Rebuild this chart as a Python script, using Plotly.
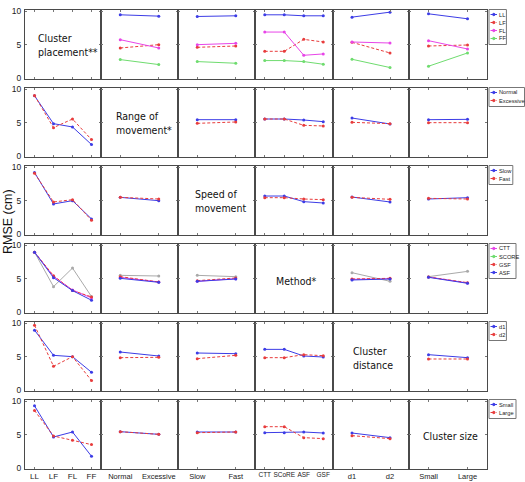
import plotly.graph_objects as go

W, H = 525, 482

# ---------------- categories (x axis of each column) ----------------
placement = ["LL", "LF", "FL", "FF"]
move_range = ["Normal", "Excessive"]
speed = ["Slow", "Fast"]
method = ["CTT", "SCoRE", "ASF", "GSF"]
distance = ["d1", "d2"]
csize = ["Small", "Large"]
factor_cats = [placement, move_range, speed, method, distance, csize]

factor_titles = ["Cluster<br>placement**", "Range of<br>movement*", "Speed of<br>movement",
                 "Method*", "Cluster<br>distance", "Cluster size"]

# ---------------- series shown in each row (legend names) ----------------
row1_series = ["LL", "LF", "FL", "FF"]
row2_series = ["Normal", "Excessive"]
row3_series = ["Slow", "Fast"]
row4_series = ["CTT", "SCORE", "GSF", "ASF"]
row5_series = ["d1", "d2"]
row6_series = ["Small", "Large"]

# ---------------- RMSE values (cm) ----------------
# Row 1: cluster placement groups vs other factors
r1_range = {"LL": [9.5, 9.3], "LF": [4.5, 5.0], "FL": [5.75, 4.5], "FF": [2.75, 2.0]}
r1_speed = {"LL": [9.25, 9.35], "LF": [4.6, 4.8], "FL": [5.0, 5.2], "FF": [2.45, 2.2]}
r1_method = {"LL": [9.5, 9.5, 9.35, 9.35], "LF": [4.0, 4.0, 5.8, 5.4],
             "FL": [6.9, 6.9, 3.4, 3.6], "FF": [2.6, 2.6, 2.45, 2.05]}
r1_distance = {"LL": [9.15, 9.9], "LF": [5.35, 3.75], "FL": [5.4, 5.25], "FF": [2.8, 1.55]}
r1_size = {"LL": [9.65, 8.9], "LF": [4.8, 4.95], "FL": [5.6, 4.35], "FF": [1.75, 3.75]}

# Row 2: range of movement
r2_placement = {"Normal": [9.05, 4.85, 4.35, 1.7], "Excessive": [9.1, 4.25, 5.55, 2.45]}
r2_speed = {"Normal": [5.45, 5.45], "Excessive": [4.9, 5.1]}
r2_method = {"Normal": [5.55, 5.55, 5.4, 5.15], "Excessive": [5.55, 5.55, 4.6, 4.5]}
r2_distance = {"Normal": [5.7, 4.8], "Excessive": [5.05, 4.85]}
r2_size = {"Normal": [5.45, 5.5], "Excessive": [5.0, 5.0]}

# Row 3: speed of movement
r3_placement = {"Slow": [9.25, 4.5, 5.0, 2.25], "Fast": [9.15, 4.8, 5.15, 2.05]}
r3_range = {"Slow": [5.5, 5.0], "Fast": [5.5, 5.25]}
r3_method = {"Slow": [5.7, 5.7, 4.85, 4.65], "Fast": [5.45, 5.45, 5.25, 5.15]}
r3_distance = {"Slow": [5.55, 4.8], "Fast": [5.5, 5.2]}
r3_size = {"Slow": [5.25, 5.45], "Fast": [5.35, 5.25]}

# Row 4: method
r4_placement = {"CTT": [9.0, 5.35, 3.3, 2.1], "SCORE": [9.0, 3.8, 6.6, 2.3],
                "GSF": [9.0, 5.45, 3.2, 2.25], "ASF": [9.0, 5.15, 3.2, 1.75]}
r4_range = {"CTT": [5.2, 4.5], "SCORE": [5.5, 5.4], "GSF": [5.3, 4.5], "ASF": [5.05, 4.45]}
r4_speed = {"CTT": [4.6, 5.0], "SCORE": [5.5, 5.3], "GSF": [4.7, 5.1], "ASF": [4.6, 4.95]}
r4_distance = {"CTT": [4.9, 5.0], "SCORE": [5.9, 4.6], "GSF": [4.95, 5.05], "ASF": [4.8, 4.95]}
r4_size = {"CTT": [5.25, 4.35], "SCORE": [5.3, 6.1], "GSF": [5.25, 4.4], "ASF": [5.2, 4.3]}

# Row 5: cluster distance
r5_placement = {"d1": [9.0, 5.2, 5.0, 2.65], "d2": [9.75, 3.55, 5.0, 1.4]}
r5_range = {"d1": [5.7, 5.1], "d2": [4.85, 4.9]}
r5_speed = {"d1": [5.55, 5.45], "d2": [4.7, 5.2]}
r5_method = {"d1": [6.1, 6.1, 5.1, 4.95], "d2": [4.85, 4.85, 5.3, 5.15]}
r5_size = {"d1": [5.3, 4.85], "d2": [4.65, 4.65]}

# Row 6: cluster size
r6_placement = {"Small": [9.35, 4.65, 5.4, 1.75], "Large": [8.65, 4.8, 4.15, 3.5]}
r6_range = {"Small": [5.45, 5.05], "Large": [5.45, 5.05]}
r6_speed = {"Small": [5.4, 5.4], "Large": [5.3, 5.4]}
r6_method = {"Small": [5.3, 5.3, 5.4, 5.25], "Large": [6.2, 6.2, 4.55, 4.4]}
r6_distance = {"Small": [5.25, 4.55], "Large": [4.85, 4.4]}

y_ticks = [0, 5, 10]

# ---------------- assembly ----------------
grid = [
    [None, r1_range, r1_speed, r1_method, r1_distance, r1_size],
    [r2_placement, None, r2_speed, r2_method, r2_distance, r2_size],
    [r3_placement, r3_range, None, r3_method, r3_distance, r3_size],
    [r4_placement, r4_range, r4_speed, None, r4_distance, r4_size],
    [r5_placement, r5_range, r5_speed, r5_method, None, r5_size],
    [r6_placement, r6_range, r6_speed, r6_method, r6_distance, None],
]
row_series = [row1_series, row2_series, row3_series, row4_series, row5_series, row6_series]

BLUE, RED, MAG, GREEN, GRAY = "#3c3ce6", "#e83c3c", "#e845e8", "#6fdc6f", "#a9a9a9"
row_colors = [[BLUE, RED, MAG, GREEN], [BLUE, RED], [BLUE, RED], [MAG, GRAY, RED, BLUE], [BLUE, RED], [BLUE, RED]]
row_legend_colors = [[BLUE, RED, MAG, GREEN], [BLUE, RED], [BLUE, RED], [MAG, GREEN, RED, BLUE], [BLUE, RED], [BLUE, RED]]
row_dash = [["solid", "3px,2px", "solid", "solid"], ["solid", "3px,2px"], ["solid", "3px,2px"],
            ["solid", "solid", "3px,2px", "solid"], ["solid", "3px,2px"], ["solid", "3px,2px"]]

col_px = [25, 101, 178, 255, 333, 409, 487]
row_top = [9.5 + 78 * r for r in range(6)]
row_h = 69

FRAME = "#4a4a4a"
TEXTFONT = dict(family="DejaVu Sans Condensed, DejaVu Sans, Verdana", size=10.5, color="#111")

fig = go.Figure()
layout = dict(width=W, height=H, margin=dict(l=0, r=0, t=0, b=0, autoexpand=False),
              paper_bgcolor="white", plot_bgcolor="white", showlegend=False)
annotations = []
shapes = []

for r in range(6):
    for c in range(6):
        k = r * 6 + c + 1
        s = "" if k == 1 else str(k)
        cats = factor_cats[c]
        n = len(cats)
        fsize = 6.5 if c == 3 else (7.5 if n == 2 else 8)
        layout["xaxis" + s] = dict(
            domain=[col_px[c] / W, col_px[c + 1] / W], anchor="y" + s,
            type="category", categoryorder="array", categoryarray=cats,
            range=[-0.5, n - 0.5], showgrid=False, zeroline=False,
            showline=True, linecolor=FRAME, linewidth=1, mirror="ticks",
            ticks="inside", ticklen=2, tickcolor="#777", tickwidth=1, tickangle=0,
            showticklabels=(r == 5), ticklabelstandoff=0,
            tickfont=dict(family="Liberation Sans, Arial", size=fsize, color="#222"), fixedrange=True)
        y0 = 1 - (row_top[r] + row_h) / H
        y1 = 1 - row_top[r] / H
        layout["yaxis" + s] = dict(
            domain=[y0, y1], anchor="x" + s, range=[-0.1, 10.3],
            tickvals=y_ticks, showgrid=False, zeroline=False,
            showline=True, linecolor=FRAME, linewidth=1, mirror="ticks",
            ticks="inside", ticklen=2, tickcolor="#777", tickwidth=1,
            showticklabels=(c == 0), ticklabelstandoff=1,
            tickfont=dict(family="Liberation Sans, Arial", size=8.5, color="#222"), fixedrange=True)
        panel = grid[r][c]
        if panel is None:
            fig.add_trace(go.Scatter(x=cats, y=[None] * n, mode="lines", showlegend=False,
                                     hoverinfo="skip", xaxis="x" + s, yaxis="y" + s))
            continue
        for i, name in enumerate(row_series[r]):
            fig.add_trace(go.Scatter(
                x=cats, y=panel[name], name=name, mode="lines+markers",
                line=dict(color=row_colors[r][i], width=1, dash=row_dash[r][i]),
                marker=dict(color=row_colors[r][i], size=3),
                showlegend=False, xaxis="x" + s, yaxis="y" + s))

# diagonal titles
title_pos = [(36, 45, "left"), (114, 123, "left"), (193, 201, "left"),
             (296, 281, "center"), (351, 358, "left"), (450, 436, "center")]
for r, (px, py, al) in enumerate(title_pos):
    annotations.append(dict(text=factor_titles[r], x=px / W, y=1 - py / H, xref="paper", yref="paper",
                            xanchor=al, yanchor="middle", align="left", showarrow=False, font=TEXTFONT))

# per-row legends (drawn to the right of each row)
LEGFONT = dict(family="Liberation Sans, Arial", size=5.7, color="#222")
leg_x = 489
for r in range(6):
    names = row_series[r]
    top = row_top[r]
    step = 8
    width = min(11 + 3.2 * max(len(nm) for nm in names), W - leg_x - 0.5)
    hgt = step * len(names) + 3
    shapes.append(dict(type="rect", xref="paper", yref="paper",
                       x0=leg_x / W, x1=(leg_x + width) / W, y0=1 - (top + hgt) / H, y1=1 - top / H,
                       line=dict(color="#777", width=1), fillcolor="white"))
    for i, nm in enumerate(names):
        yc = top + 5 + i * step
        col = row_legend_colors[r][i]
        shapes.append(dict(type="line", xref="paper", yref="paper",
                           x0=(leg_x + 1.5) / W, x1=(leg_x + 8) / W, y0=1 - yc / H, y1=1 - yc / H,
                           line=dict(color=col, width=1, dash="solid" if row_dash[r][i] == "solid" else "dot")))
        shapes.append(dict(type="circle", xref="paper", yref="paper",
                           x0=(leg_x + 3.6) / W, x1=(leg_x + 6) / W, y0=1 - (yc + 1.2) / H, y1=1 - (yc - 1.2) / H,
                           line=dict(color=col, width=1), fillcolor=col))
        annotations.append(dict(text=nm, x=(leg_x + 8.3) / W, y=1 - yc / H, xref="paper", yref="paper",
                                xanchor="left", yanchor="middle", showarrow=False, font=LEGFONT))

# shared y-axis title
annotations.append(dict(text="RMSE (cm)", x=8 / W, y=1 - 222 / H, xref="paper", yref="paper",
                        textangle=-90, showarrow=False, xanchor="center", yanchor="middle",
                        font=dict(family="Liberation Sans, Arial", size=12.5, color="#111")))

layout["annotations"] = annotations
layout["shapes"] = shapes
fig.update_layout(**layout)
fig.write_html("out.html")
